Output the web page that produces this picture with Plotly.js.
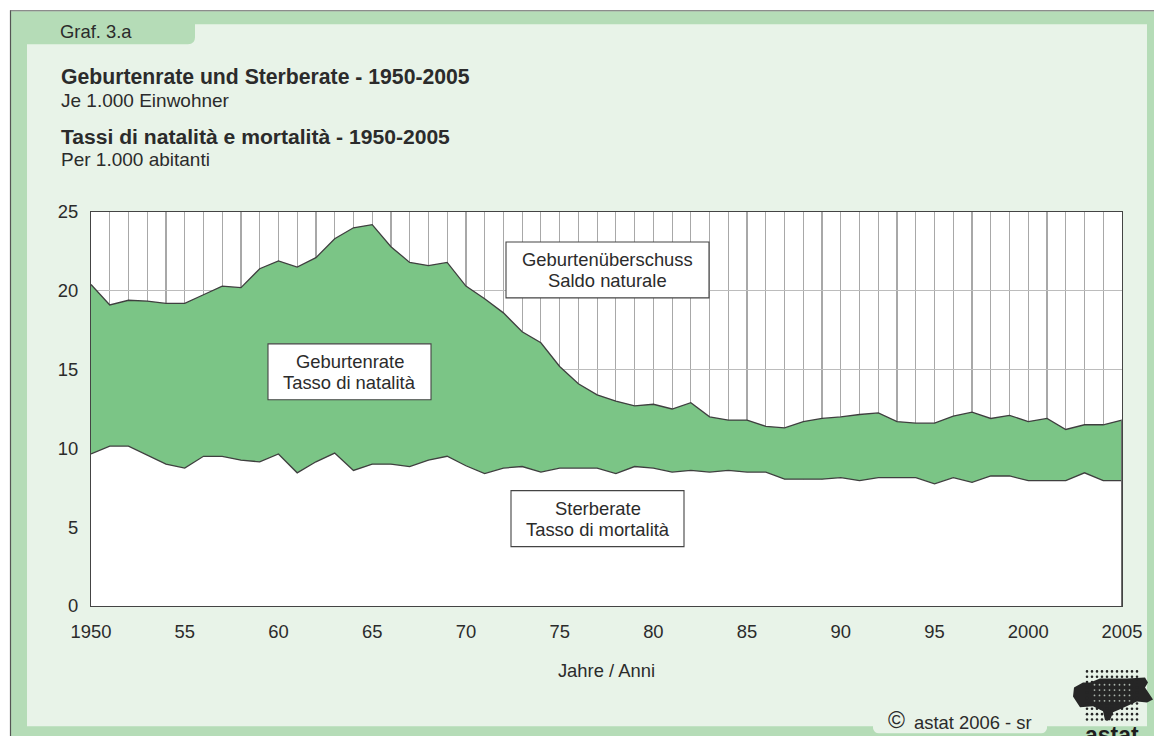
<!DOCTYPE html>
<html><head><meta charset="utf-8">
<script src="https://cdn.plot.ly/plotly-3.0.1.min.js"></script>
<style>html,body{margin:0;padding:0;background:#fff}#c{width:1154px;height:736px}</style></head>
<body><div id="c"></div>
<script>
const years=[1950,1951,1952,1953,1954,1955,1956,1957,1958,1959,1960,1961,1962,1963,1964,1965,1966,1967,1968,1969,1970,1971,1972,1973,1974,1975,1976,1977,1978,1979,1980,1981,1982,1983,1984,1985,1986,1987,1988,1989,1990,1991,1992,1993,1994,1995,1996,1997,1998,1999,2000,2001,2002,2003,2004,2005];
const births=[20.4,19.1,19.4,19.35,19.2,19.2,19.75,20.3,20.2,21.4,21.9,21.5,22.1,23.3,24.0,24.2,22.8,21.8,21.6,21.8,20.3,19.5,18.6,17.4,16.7,15.2,14.1,13.4,13.0,12.7,12.8,12.5,12.9,12.0,11.8,11.8,11.4,11.3,11.7,11.9,12.0,12.15,12.25,11.7,11.6,11.6,12.05,12.3,11.9,12.1,11.7,11.9,11.2,11.5,11.5,11.8];
const deaths=[9.65,10.15,10.15,9.6,9.0,8.75,9.5,9.5,9.25,9.15,9.65,8.45,9.15,9.7,8.6,9.0,9.0,8.85,9.25,9.5,8.9,8.4,8.75,8.85,8.5,8.75,8.75,8.75,8.4,8.85,8.75,8.5,8.6,8.5,8.6,8.5,8.5,8.05,8.05,8.05,8.15,7.95,8.15,8.15,8.15,7.75,8.15,7.85,8.25,8.25,7.95,7.95,7.95,8.45,7.95,7.95];
const xTickLabels=years.map(y=>y%5!==0?'':(y===1950||y===2000||y===2005?String(y):String(y%100).padStart(2,'0')));
const yTicks=[0,5,10,15,20,25];

const W=1154,H=736,L=91,R=1122,T=212,B=606.5;
const X=p=>(p-L)/(R-L), Y=p=>(B-p)/(B-T);
const P=(x,y)=>X(x)+' '+Y(y);
const FONT='"Liberation Sans", Arial, sans-serif', INK='#2b2b2b';
const BAND='#b5dcb7', PANEL='#e8f3e8';

const rectS=(x0,y0,x1,y1,fill,line,layer)=>({type:'rect',xref:'paper',yref:'paper',x0:X(x0),y0:Y(y0),x1:X(x1),y1:Y(y1),fillcolor:fill,line:line?{color:line,width:1.1}:{width:0},layer:layer||'below'});
const lineS=(x0,y0,x1,y1,c,w)=>({type:'line',xref:'paper',yref:'paper',x0:X(x0),y0:Y(y0),x1:X(x1),y1:Y(y1),line:{color:c,width:w},layer:'below'});

const shapes=[
 rectS(11,11,1155,737,BAND),
 {type:'path',xref:'paper',yref:'paper',layer:'below',fillcolor:PANEL,line:{width:0},
  path:`M ${P(27,44)} L ${P(188,44)} Q ${P(195,44)} ${P(195,37)} L ${P(195,24)} L ${P(1147,24)} L ${P(1147,727)} L ${P(1047,727)} L ${P(1047,729)} Q ${P(1046,734)} ${P(1041,734)} L ${P(879,734)} Q ${P(874,734)} ${P(873,729)} L ${P(873,727)} L ${P(27,727)} Z`},
 lineS(10.5,10,10.5,737,'#555',1.2),
 lineS(10,10.5,1155,10.5,'#666',1.2),
 rectS(L,T,R,B,'#ffffff'),
 rectS(268,344,431,400,'#fff','#444','above'),
 rectS(506,242,709,298,'#fff','#444','above'),
 rectS(511,491,684,547,'#fff','#444','above'),
 {type:'line',xref:'x',yref:'y',x0:2005,x1:2005,y0:0,y1:births[births.length-1],line:{color:'#6e6e6e',width:2},layer:'above'}
];
// logo: blob, dark dot raster, and light specks in the blob's centre
shapes.push({type:'path',xref:'paper',yref:'paper',layer:'below',fillcolor:'#262626',line:{width:0},
 path:'M '+[[1074,688],[1083,683],[1090,683],[1100,679],[1127,679],[1145,678],[1148,683],[1145,688],[1153,700],[1147,703],[1137,702],[1120,710],[1113,713],[1110,721],[1105,721],[1103,712],[1093,707],[1080,708],[1073,697]].map(p=>P(p[0],p[1])).join(' L ')+' Z'});
const dot=(cx,cy,r,c)=>({type:'circle',xref:'paper',yref:'paper',layer:'below',fillcolor:c,line:{width:0},x0:X(cx-r),x1:X(cx+r),y0:Y(cy+r),y1:Y(cy-r)});
for(let i=0;i<11;i++)for(let j=0;j<10;j++){
 const cx=1087+i*5,cy=672+j*5.35;
 shapes.push(dot(cx,cy,1.3,'#262626'));
 const sx=cx+2.5,sy=cy+2.67;
 if(i<10&&j<9&&sx>1090&&sx<1134&&sy>682&&sy<706) shapes.push(dot(sx,sy,0.9,'#a9b3aa'));
}

const note=(text,x,y,size,opts)=>Object.assign({text,xref:'paper',yref:'paper',x:X(x),y:Y(y),showarrow:false,align:'center',xanchor:'center',yanchor:'middle',font:{family:FONT,size:size,color:INK},borderpad:0},opts||{});
const left={xanchor:'left',align:'left'};
const annotations=[
 note('Graf. 3.a',59,31,18.4,left),
 note('<b>Geburtenrate und Sterberate - 1950-2005</b>',59.5,76.5,21.2,left),
 note('Je 1.000 Einwohner',59.5,100,19,left),
 note('<b>Tassi di natalità e mortalità - 1950-2005</b>',59.5,136.5,21.1,left),
 note('Per 1.000 abitanti',59.5,159,19,left),
 note('Geburtenrate',349.5,362,18.4),
 note('Tasso di natalità',349.5,383,18.4),
 note('Geburtenüberschuss',607.5,259.5,18.4),
 note('Saldo naturale',607.5,281,18.4),
 note('Sterberate',597.5,508.5,18.4),
 note('Tasso di mortalità',597.5,530,18.4),
 note('©',896,721,23),
 note('astat 2006 - sr',913,723,18.4,left),
 note('<b>astat</b>',1112,736,23,{font:{family:FONT,size:23,color:'#1e1e1e'}})
];

const traces=[
 {x:years,y:deaths,type:'scatter',mode:'lines',fill:'tozeroy',fillcolor:'#ffffff',line:{color:'#3f3f3f',width:1.3},hoverinfo:'x+y',name:'Sterberate'},
 {x:years,y:births,type:'scatter',mode:'lines',fill:'tonexty',fillcolor:'#7bc586',line:{color:'#3f3f3f',width:1.3},hoverinfo:'x+y',name:'Geburtenrate'}
];
const layout={
 width:W,height:H,showlegend:false,
 margin:{l:L,r:W-R,t:T,b:H-B,pad:0},
 paper_bgcolor:'#ffffff',plot_bgcolor:'#ffffff',
 font:{family:FONT,size:18.4,color:INK},
 xaxis:{range:[1950,2005],tickmode:'array',tickvals:years,ticktext:xTickLabels,tickangle:0,showgrid:true,gridcolor:'#a8a8a8',gridwidth:1.2,
  ticks:'outside',ticklen:9,tickcolor:'rgba(0,0,0,0)',showline:true,linecolor:'#444',linewidth:1.1,mirror:true,zeroline:false,
  tickfont:{family:FONT,size:18.4,color:INK},title:{text:'Jahre / Anni',font:{family:FONT,size:18.4,color:INK},standoff:22},automargin:false},
 yaxis:{range:[0,25],tickmode:'array',tickvals:yTicks,showgrid:true,gridcolor:'#bcbcbc',gridwidth:1.4,
  ticks:'outside',ticklen:8,tickcolor:'rgba(0,0,0,0)',showline:true,linecolor:'#444',linewidth:1.1,mirror:true,zeroline:false,
  tickfont:{family:FONT,size:18.4,color:INK},automargin:false},
 shapes,annotations
};
Plotly.newPlot('c',traces,layout,{displayModeBar:false,staticPlot:true});
</script></body></html>
